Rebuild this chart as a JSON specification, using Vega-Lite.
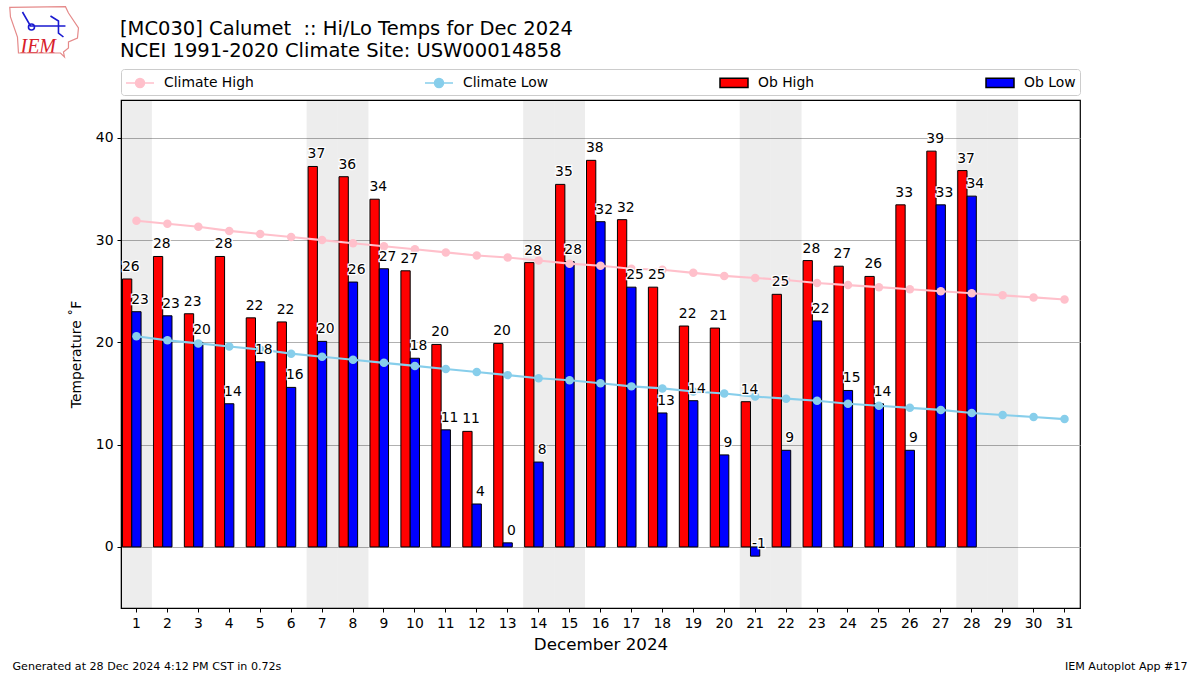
{
"$schema":"https://vega.github.io/schema/vega-lite/v6.json",
"autosize":"none","width":959,"height":508,
"padding":{"left":121,"top":100,"right":120,"bottom":67},
"background":"white",
"config":{"font":"DejaVu Sans","view":{"stroke":"black","strokeWidth":1.2}},
"title":{"text":["[MC030] Calumet\u00a0\u00a0:: Hi/Lo Temps for Dec 2024","NCEI 1991-2020 Climate Site: USW00014858"],"anchor":"start","frame":"group","fontSize":19.5,"fontWeight":"normal","lineHeight":22,"offset":-57,"dx":-1,"color":"black"},
"datasets":{
"weekend":[{"day":"1"},{"day":"7"},{"day":"8"},{"day":"14"},{"day":"15"},{"day":"21"},{"day":"22"},{"day":"28"},{"day":"29"}],
"obs":[
{"day":"1","series":"Ob High","temp":26.2},{"day":"2","series":"Ob High","temp":28.4},{"day":"3","series":"Ob High","temp":22.8},{"day":"4","series":"Ob High","temp":28.4},{"day":"5","series":"Ob High","temp":22.4},{"day":"6","series":"Ob High","temp":22.0},{"day":"7","series":"Ob High","temp":37.2},{"day":"8","series":"Ob High","temp":36.2},{"day":"9","series":"Ob High","temp":34.0},{"day":"10","series":"Ob High","temp":27.0},{"day":"11","series":"Ob High","temp":19.8},{"day":"12","series":"Ob High","temp":11.3},{"day":"13","series":"Ob High","temp":19.9},{"day":"14","series":"Ob High","temp":27.8},{"day":"15","series":"Ob High","temp":35.45},{"day":"16","series":"Ob High","temp":37.8},{"day":"17","series":"Ob High","temp":32.0},{"day":"18","series":"Ob High","temp":25.4},{"day":"19","series":"Ob High","temp":21.6},{"day":"20","series":"Ob High","temp":21.4},{"day":"21","series":"Ob High","temp":14.2},{"day":"22","series":"Ob High","temp":24.7},{"day":"23","series":"Ob High","temp":28.0},{"day":"24","series":"Ob High","temp":27.45},{"day":"25","series":"Ob High","temp":26.45},{"day":"26","series":"Ob High","temp":33.45},{"day":"27","series":"Ob High","temp":38.7},{"day":"28","series":"Ob High","temp":36.8},
{"day":"1","series":"Ob Low","temp":23.0},{"day":"2","series":"Ob Low","temp":22.6},{"day":"3","series":"Ob Low","temp":20.0},{"day":"4","series":"Ob Low","temp":14.0},{"day":"5","series":"Ob Low","temp":18.1},{"day":"6","series":"Ob Low","temp":15.6},{"day":"7","series":"Ob Low","temp":20.1},{"day":"8","series":"Ob Low","temp":25.9},{"day":"9","series":"Ob Low","temp":27.2},{"day":"10","series":"Ob Low","temp":18.45},{"day":"11","series":"Ob Low","temp":11.45},{"day":"12","series":"Ob Low","temp":4.2},{"day":"13","series":"Ob Low","temp":0.4},{"day":"14","series":"Ob Low","temp":8.3},{"day":"15","series":"Ob Low","temp":27.9},{"day":"16","series":"Ob Low","temp":31.8},{"day":"17","series":"Ob Low","temp":25.4},{"day":"18","series":"Ob Low","temp":13.1},{"day":"19","series":"Ob Low","temp":14.3},{"day":"20","series":"Ob Low","temp":9.0},{"day":"21","series":"Ob Low","temp":-0.9},{"day":"22","series":"Ob Low","temp":9.45},{"day":"23","series":"Ob Low","temp":22.1},{"day":"24","series":"Ob Low","temp":15.3},{"day":"25","series":"Ob Low","temp":14.0},{"day":"26","series":"Ob Low","temp":9.45},{"day":"27","series":"Ob Low","temp":33.45},{"day":"28","series":"Ob Low","temp":34.3}],
"climate":[
{"day":"1","series":"Climate High","temp":31.9},{"day":"2","series":"Climate High","temp":31.6},{"day":"3","series":"Climate High","temp":31.3},{"day":"4","series":"Climate High","temp":30.9},{"day":"5","series":"Climate High","temp":30.6},{"day":"6","series":"Climate High","temp":30.3},{"day":"7","series":"Climate High","temp":30.0},{"day":"8","series":"Climate High","temp":29.7},{"day":"9","series":"Climate High","temp":29.4},{"day":"10","series":"Climate High","temp":29.1},{"day":"11","series":"Climate High","temp":28.8},{"day":"12","series":"Climate High","temp":28.5},{"day":"13","series":"Climate High","temp":28.3},{"day":"14","series":"Climate High","temp":28.0},{"day":"15","series":"Climate High","temp":27.7},{"day":"16","series":"Climate High","temp":27.5},{"day":"17","series":"Climate High","temp":27.2},{"day":"18","series":"Climate High","temp":27.1},{"day":"19","series":"Climate High","temp":26.8},{"day":"20","series":"Climate High","temp":26.5},{"day":"21","series":"Climate High","temp":26.3},{"day":"22","series":"Climate High","temp":26.1},{"day":"23","series":"Climate High","temp":25.8},{"day":"24","series":"Climate High","temp":25.6},{"day":"25","series":"Climate High","temp":25.4},{"day":"26","series":"Climate High","temp":25.2},{"day":"27","series":"Climate High","temp":25.0},{"day":"28","series":"Climate High","temp":24.8},{"day":"29","series":"Climate High","temp":24.6},{"day":"30","series":"Climate High","temp":24.4},{"day":"31","series":"Climate High","temp":24.2},
{"day":"1","series":"Climate Low","temp":20.6},{"day":"2","series":"Climate Low","temp":20.2},{"day":"3","series":"Climate Low","temp":19.9},{"day":"4","series":"Climate Low","temp":19.6},{"day":"5","series":"Climate Low","temp":19.3},{"day":"6","series":"Climate Low","temp":18.9},{"day":"7","series":"Climate Low","temp":18.6},{"day":"8","series":"Climate Low","temp":18.3},{"day":"9","series":"Climate Low","temp":18.0},{"day":"10","series":"Climate Low","temp":17.7},{"day":"11","series":"Climate Low","temp":17.4},{"day":"12","series":"Climate Low","temp":17.1},{"day":"13","series":"Climate Low","temp":16.8},{"day":"14","series":"Climate Low","temp":16.5},{"day":"15","series":"Climate Low","temp":16.3},{"day":"16","series":"Climate Low","temp":16.0},{"day":"17","series":"Climate Low","temp":15.7},{"day":"18","series":"Climate Low","temp":15.5},{"day":"19","series":"Climate Low","temp":15.2},{"day":"20","series":"Climate Low","temp":15.0},{"day":"21","series":"Climate Low","temp":14.7},{"day":"22","series":"Climate Low","temp":14.5},{"day":"23","series":"Climate Low","temp":14.3},{"day":"24","series":"Climate Low","temp":14.0},{"day":"25","series":"Climate Low","temp":13.8},{"day":"26","series":"Climate Low","temp":13.6},{"day":"27","series":"Climate Low","temp":13.4},{"day":"28","series":"Climate Low","temp":13.1},{"day":"29","series":"Climate Low","temp":12.9},{"day":"30","series":"Climate Low","temp":12.7},{"day":"31","series":"Climate Low","temp":12.5}],
"anchor":[{"day":"1","temp":43.7}],
"footerL":[{"day":"1","temp":-5.97,"note":"Generated at 28 Dec 2024 4:12 PM CST in 0.72s"}],
"footerR":[{"day":"31","temp":-5.97,"note":"IEM Autoplot App #17"}],
"logo":[{"day":"1","temp":43.7,"note":"IEM"}]
},
"encoding":{
"x":{"field":"day","type":"ordinal","scale":{"domain":["1","2","3","4","5","6","7","8","9","10","11","12","13","14","15","16","17","18","19","20","21","22","23","24","25","26","27","28","29","30","31"],"paddingInner":0,"paddingOuter":0},
"axis":{"title":"December 2024","titleFontSize":16.7,"titleFontWeight":"normal","titleColor":"black","titlePadding":7,"labelAngle":0,"labelFontSize":13.9,"labelColor":"black","tickColor":"black","domainColor":"black","tickSize":4,"labelPadding":4,"grid":false}},
"y":{"field":"temp","type":"quantitative","scale":{"domain":[-5.97,43.7],"nice":false,"zero":false},
"axis":{"title":"Temperature ˚F","titleFontSize":13.9,"titleFontWeight":"normal","titleColor":"black","titlePadding":12,"values":[0,10,20,30,40],"labelFontSize":13.9,"labelColor":"black","tickColor":"black","domainColor":"black","tickSize":4,"labelPadding":4,"grid":true,"gridColor":"#b0b0b0","gridWidth":1}}
},
"layer":[
{"data":{"name":"weekend"},"mark":{"type":"rect","fill":"black","opacity":0.07},"encoding":{"x":{"field":"day","type":"ordinal"},"y":{"value":0},"y2":{"value":508}}},
{"data":{"name":"obs"},"mark":{"type":"bar","strokeWidth":1,"clip":false},
"encoding":{"y":{"field":"temp","type":"quantitative"},"y2":{"datum":0},"xOffset":{"field":"series","type":"nominal","scale":{"domain":["Ob High","Ob Low"],"paddingInner":0,"paddingOuter":0.665,"align":0.12}},
"fill":{"field":"series","type":"nominal","scale":{"domain":["Climate High","Climate Low","Ob High","Ob Low"],"range":["#ffc0cb","#87ceeb","#ff0000","#0000ff"]},
"legend":{"title":null,"orient":"none","legendX":0,"legendY":-31,"direction":"horizontal","columns":4,"gridAlign":"each","columnPadding":168,"symbolSize":289,"labelOffset":20,"labelFontSize":13.9,"labelColor":"black","padding":4,"fillColor":"white","strokeColor":"#cccccc","cornerRadius":3,"symbolStrokeWidth":1.5,"symbolOpacity":1}},
"stroke":{"field":"series","type":"nominal","scale":{"domain":["Climate High","Climate Low","Ob High","Ob Low"],"range":["#ffc0cb","#87ceeb","#000000","#000000"]},
"legend":{"title":null,"orient":"none","legendX":0,"legendY":-31,"direction":"horizontal","columns":4,"gridAlign":"each","columnPadding":168,"symbolSize":289,"labelOffset":20,"labelFontSize":13.9,"labelColor":"black","padding":4,"fillColor":"white","strokeColor":"#cccccc","cornerRadius":3,"symbolStrokeWidth":1.5,"symbolOpacity":1}}}},
{"data":{"name":"climate"},"mark":{"type":"line","strokeWidth":2.1},"encoding":{"color":{"field":"series","type":"nominal","scale":{"domain":["Climate High","Climate Low"],"range":["#ffc0cb","#87ceeb"]},"legend":null},"stroke":{"field":"series","type":"nominal"}}},
{"data":{"name":"climate"},"mark":{"type":"point","filled":true,"size":1,"opacity":0},"encoding":{
"shape":{"field":"series","type":"nominal","scale":{"domain":["Climate High","Climate Low","Ob High","Ob Low"],"range":["M-1,0L2.294,0M0.117,0A0.53,0.53 0 1 1 1.177,0A0.53,0.53 0 1 1 0.117,0Z","M-1,0L2.294,0M0.117,0A0.53,0.53 0 1 1 1.177,0A0.53,0.53 0 1 1 0.117,0Z","M-1,-0.55L2.294,-0.55L2.294,0.55L-1,0.55Z","M-1,-0.55L2.294,-0.55L2.294,0.55L-1,0.55Z"]},
"legend":{"title":null,"orient":"none","legendX":0,"legendY":-31,"direction":"horizontal","columns":4,"gridAlign":"each","columnPadding":168,"symbolSize":289,"labelOffset":20,"labelFontSize":13.9,"labelColor":"black","padding":4,"fillColor":"white","strokeColor":"#cccccc","cornerRadius":3,"symbolStrokeWidth":1.5,"symbolOpacity":1}}}},
{"data":{"name":"climate"},"mark":{"type":"circle","size":72,"opacity":1},"encoding":{"fill":{"field":"series","type":"nominal"}}},
{"data":{"name":"obs"},"transform":[{"calculate":"replace(format(datum.temp,'.0f'),'\u2212','-')","as":"label"}],"mark":{"type":"text","dx":3.7,"dy":-8,"baseline":"alphabetic","fontSize":13.9,"stroke":"white","strokeWidth":2.5,"fill":"white"},"encoding":{"y":{"field":"temp","type":"quantitative"},"xOffset":{"field":"series","type":"nominal"},"text":{"field":"label"}}},
{"data":{"name":"obs"},"transform":[{"calculate":"replace(format(datum.temp,'.0f'),'\u2212','-')","as":"label"}],"mark":{"type":"text","dx":3.7,"dy":-8,"baseline":"alphabetic","fontSize":13.9,"fill":"black"},"encoding":{"y":{"field":"temp","type":"quantitative"},"xOffset":{"field":"series","type":"nominal"},"text":{"field":"label"}}},
{"data":{"name":"footerL"},"mark":{"type":"text","align":"left","baseline":"alphabetic","dx":-124,"dy":62,"fontSize":11.1,"fill":"black"},"encoding":{"text":{"field":"note"}}},
{"data":{"name":"footerR"},"mark":{"type":"text","align":"right","baseline":"alphabetic","dx":123,"dy":62,"fontSize":11.1,"fill":"black"},"encoding":{"text":{"field":"note"}}},
{"data":{"name":"logo"},"mark":{"type":"text","align":"left","baseline":"alphabetic","dx":-116,"dy":-47,"font":"Liberation Serif","fontStyle":"italic","fontSize":20,"fill":"#d8202a"},"encoding":{"text":{"field":"note"}}},
{"data":{"name":"anchor"},"mark":{"type":"point","filled":false,"size":4,"stroke":"#e58a8a","strokeWidth":1.2,"opacity":1,"clip":false,"shape":"M-126.7,-92.7L-71,-93.3L-68,-87L-58,-72L-59,-62L-68,-58L-68,-52L-73,-48L-72,-43L-76,-47L-118,-47L-119,-63L-126,-83Z"}},
{"data":{"name":"anchor"},"mark":{"type":"point","filled":false,"size":4,"stroke":"#1a1ad0","strokeWidth":1.6,"opacity":1,"clip":false,"shape":"M-114,-88L-106,-74L-71,-74M-86,-84L-78,-79L-78,-67L-73,-63M-108,-73A3,3 0 1 1 -102,-73A3,3 0 1 1 -108,-73Z"}}
]
}
